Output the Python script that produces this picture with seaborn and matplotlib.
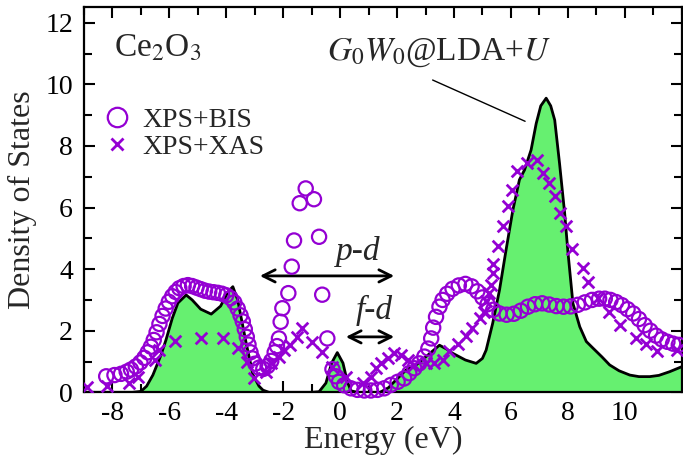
import numpy as np
import pandas as pd
import matplotlib
matplotlib.use("Agg")
import matplotlib.pyplot as plt
import seaborn as sns
from matplotlib.lines import Line2D
from matplotlib.ticker import MultipleLocator

# ---------------- data ----------------
dos_energy = [-9.0, -7.3, -7.0, -6.8, -6.58, -6.3, -6.12, -5.9, -5.7, -5.41, -5.2, -4.9,
              -4.53, -4.2, -3.95, -3.77, -3.6, -3.53, -3.3, -3.06, -2.85, -2.71, -2.5,
              -1.0, -0.74, -0.5, -0.3, -0.1, 0.1, 0.25, 0.38, 0.6, 1.4, 1.7, 1.96, 2.31,
              2.67, 3.02, 3.49, 3.75, 3.95, 4.4, 4.78, 5.0, 5.13, 5.36, 5.6, 5.83, 6.07,
              6.3, 6.48, 6.71, 6.89, 7.05, 7.24, 7.4, 7.54, 7.71, 7.89, 8.0, 8.18, 8.42,
              8.65, 8.89, 9.2, 9.47, 9.8, 10.18, 10.5, 10.88, 11.2, 11.58, 12.0]
dos_value = [0.0, 0.0, 0.03, 0.2, 0.56, 1.2, 1.7, 2.4, 2.9, 3.16, 3.0, 2.7,
             2.54, 2.8, 3.25, 3.43, 3.0, 2.67, 1.59, 0.56, 0.2, 0.07, 0.0,
             0.0, 0.02, 0.3, 0.95, 1.29, 0.95, 0.35, 0.05, 0.0, 0.0, 0.15, 0.4, 0.72,
             0.89, 1.16, 1.53, 1.4, 1.27, 1.05, 0.94, 1.1, 1.37, 2.24, 3.32, 4.62, 5.92,
             6.9, 7.22, 7.87, 8.73, 9.3, 9.55, 9.3, 8.84, 7.43, 5.81, 4.6, 2.89, 2.13,
             1.65, 1.43, 1.15, 0.89, 0.7, 0.56, 0.51, 0.51, 0.55, 0.67, 0.83]

bis_energy = [-8.22, -7.93, -7.7, -7.5, -7.35, -7.18, -7.02, -6.88, -6.76, -6.65, -6.55,
              -6.45, -6.35, -6.24, -6.13, -6.02, -5.9, -5.78, -5.65, -5.5, -5.35, -5.2,
              -5.05, -4.9, -4.75, -4.6, -4.45, -4.3, -4.15, -4.0, -3.85, -3.72, -3.6,
              -3.5, -3.42, -3.35, -3.28, -3.22, -3.15, -3.08, -2.98, -2.85, -2.7, -2.55,
              -2.42, -2.3, -2.22, -2.15, -2.09, -2.03, -1.82, -1.7, -1.62, -1.42, -1.21,
              -0.92, -0.74, -0.63, -0.45, -0.27, -0.15, -0.04, 0.14, 0.38, 0.61, 0.85,
              1.08, 1.31, 1.55, 1.78, 2.02, 2.25, 2.43, 2.61, 2.78, 2.96, 3.1, 3.2,
              3.27, 3.37, 3.49, 3.6, 3.76, 3.95, 4.17, 4.4, 4.62, 4.82, 5.0, 5.18, 5.38,
              5.6, 5.85, 6.1, 6.35, 6.6, 6.85, 7.1, 7.35, 7.6, 7.85, 8.1, 8.35, 8.6,
              8.85, 9.1, 9.3, 9.5, 9.7, 9.9, 10.1, 10.3, 10.5, 10.7, 10.9, 11.1, 11.3,
              11.5, 11.7, 11.9]
bis_value = [0.52, 0.56, 0.6, 0.67, 0.74, 0.84, 0.97, 1.12, 1.3, 1.48, 1.7,
             1.95, 2.22, 2.48, 2.72, 2.94, 3.12, 3.26, 3.38, 3.45, 3.48, 3.45,
             3.4, 3.35, 3.3, 3.27, 3.25, 3.23, 3.2, 3.15, 3.06, 2.92, 2.72,
             2.5, 2.3, 2.05, 1.8, 1.55, 1.3, 1.1, 0.93, 0.8, 0.76, 0.85,
             1.02, 1.3, 1.5, 1.75, 2.29, 2.73, 3.22, 4.08, 4.93, 6.14, 6.62,
             6.27, 5.05, 3.17, 1.75, 0.75, 0.52, 0.34, 0.23, 0.13, 0.08, 0.06,
             0.06, 0.08, 0.13, 0.24, 0.34, 0.45, 0.62, 0.78, 0.94, 1.16, 1.42, 1.75,
             2.1, 2.45, 2.78, 3.0, 3.2, 3.36, 3.47, 3.52, 3.44, 3.28, 3.08, 2.86, 2.68,
             2.56, 2.52, 2.55, 2.65, 2.78, 2.86, 2.89, 2.85, 2.8, 2.78, 2.79, 2.84, 2.92,
             3.0, 3.04, 3.04, 3.0, 2.93, 2.83, 2.7, 2.56, 2.38, 2.18, 2.0, 1.84, 1.72,
             1.64, 1.58, 1.54]

xas_energy = [-8.88, -8.18, -7.42, -7.11, -6.52, -6.38, -5.79, -4.89, -4.13, -3.6, -3.28,
              -3.01, -2.62, -2.44, -2.15, -1.97, -1.77, -1.52, -1.35, -1.0, -0.65, -0.27,
              0.2, 0.79, 1.08, 1.26, 1.43, 1.67, 1.9, 2.14, 2.37, 2.61, 3.0, 3.3, 3.6,
              3.84, 4.13, 4.43, 4.63, 4.9, 5.05, 5.13, 5.24, 5.3, 5.36, 5.38, 5.54, 5.72,
              5.9, 6.05, 6.22, 6.55, 6.92, 7.14, 7.35, 7.54, 7.71, 7.93, 8.15, 8.52, 8.71,
              9.05, 9.45, 9.85, 10.41, 10.74, 11.15, 11.82]
xas_value = [0.18, 0.2, 0.29, 0.51, 1.05, 1.38, 1.68, 1.75, 1.77, 1.43, 0.98,
             0.48, 0.67, 0.94, 1.16, 1.37, 1.55, 1.8, 2.08, 1.64, 1.3, 0.83,
             0.5, 0.29, 0.5, 0.78, 0.94, 1.1, 1.27, 1.21, 1.05, 0.89, 0.95, 0.95, 1.05,
             1.35, 1.57, 1.84, 2.1, 2.4, 2.6, 2.95, 3.21, 3.48, 3.88, 4.17, 4.76, 5.4,
             6.04, 6.58, 7.2, 7.45, 7.55, 7.12, 6.79, 6.36, 5.83, 5.4, 4.66, 4.03, 3.59,
             3.05, 2.6, 2.19, 1.75, 1.56, 1.35, 1.37]

x_ticks = [-8, -6, -4, -2, 0, 2, 4, 6, 8, 10]
y_ticks = [0, 2, 4, 6, 8, 10, 12]

# ---------------- style ----------------
sns.set_style("ticks")
plt.rcParams["font.family"] = ["Liberation Serif", "DejaVu Serif"]
plt.rcParams["mathtext.fontset"] = "stix"
plt.rcParams["axes.unicode_minus"] = False

PURPLE = "#9400D3"
GREEN = "#66F070"

fig = plt.figure(figsize=(6.83, 4.58), dpi=100)
ax = fig.add_axes([0.123, 0.1434, 0.875, 0.8406])

dos = pd.DataFrame({"Energy": dos_energy, "DOS": dos_value})
bis = pd.DataFrame({"Energy": bis_energy, "DOS": bis_value})
xas = pd.DataFrame({"Energy": xas_energy, "DOS": xas_value})

ax.fill_between(dos["Energy"], 0, dos["DOS"], color=GREEN, lw=0, zorder=1)
sns.lineplot(data=dos, x="Energy", y="DOS", ax=ax, color="black", lw=2.0,
             sort=False, zorder=2, legend=False)

sns.scatterplot(data=bis, x="Energy", y="DOS", ax=ax, marker="o", s=105,
                facecolors="none", edgecolors=PURPLE, linewidths=1.6,
                zorder=4, clip_on=False, legend=False)
sns.scatterplot(data=xas, x="Energy", y="DOS", ax=ax, marker="x", s=70,
                color=PURPLE, linewidths=2.0, zorder=5, legend=False)

ax.set_xlim(-9, 12)
ax.set_ylim(0, 12.5)
ax.set_xticks(x_ticks)
ax.set_yticks(y_ticks)
ax.xaxis.set_minor_locator(MultipleLocator(1))
ax.yaxis.set_minor_locator(MultipleLocator(1))
ax.tick_params(which="both", direction="in", top=True, right=True, width=1.5,
               labelsize=20, colors="black")
ax.tick_params(which="major", length=8)
ax.tick_params(which="minor", length=6)
ax.tick_params(axis="x", pad=6)
ax.tick_params(axis="y", pad=8)
for sp in ax.spines.values():
    sp.set_linewidth(1.6)
    sp.set_color("black")

ax.set_xlabel("Energy (eV)", fontsize=23, labelpad=0)
ax.set_ylabel("Density of States", fontsize=23, labelpad=6)

# texts
ax.text(-7.96, 10.9, r"Ce$_2$O$_3$", fontsize=24, ha="left", va="baseline")
ax.text(-0.46, 10.79, r"$G_0W_0$@LDA+$U$", fontsize=24, ha="left", va="baseline")
ax.plot([3.25, 6.5], [10.14, 8.8], color="black", lw=1.0)

# arrows
ax.annotate("", xy=(-2.82, 3.78), xytext=(1.9, 3.78),
            arrowprops=dict(arrowstyle="<->", lw=2.0, color="black",
                            mutation_scale=22, shrinkA=0, shrinkB=0))
ax.annotate("", xy=(0.2, 1.8), xytext=(1.9, 1.8),
            arrowprops=dict(arrowstyle="<->", lw=2.0, color="black",
                            mutation_scale=22, shrinkA=0, shrinkB=0))
ax.text(0.63, 4.57, "p-d", fontsize=24, style="italic", ha="center", va="center")
ax.text(1.2, 2.67, "f-d", fontsize=24, style="italic", ha="center", va="center")

# legend
handles = [Line2D([], [], ls="none", marker="o", ms=14, mfc="none", mec=PURPLE, mew=1.6),
           Line2D([], [], ls="none", marker="x", ms=8, color=PURPLE, mew=2.0)]
ax.legend(handles, ["XPS+BIS", "XPS+XAS"], loc="upper left",
          bbox_to_anchor=(0.0, 0.79), frameon=False, fontsize=20,
          handlelength=1.0, handletextpad=0.4, labelspacing=0.05,
          borderaxespad=0.3)

fig.savefig("out.png", dpi=100)
